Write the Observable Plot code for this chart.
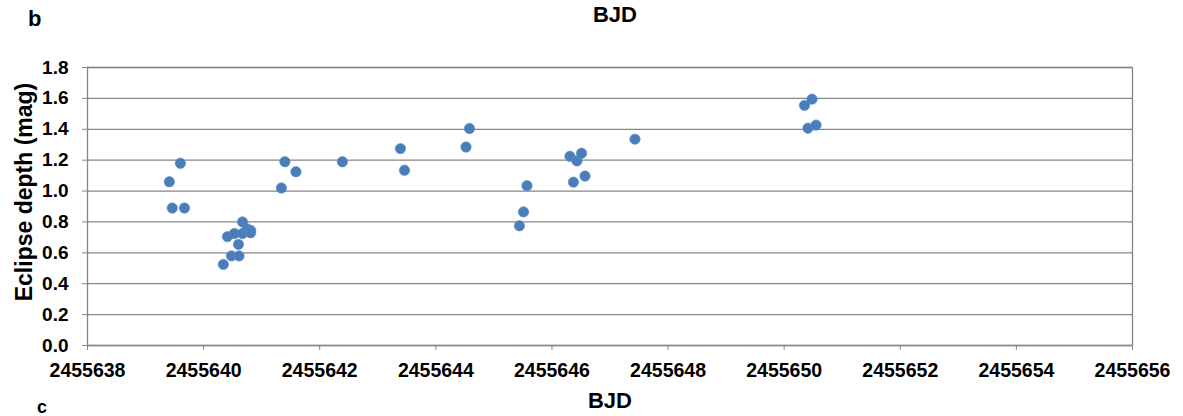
<!DOCTYPE html>
<html>
<head>
<meta charset="utf-8">
<script src="https://cdn.jsdelivr.net/npm/d3@7"></script>
<script src="https://cdn.jsdelivr.net/npm/@observablehq/plot@0.6"></script>
<style>
  html, body { margin: 0; padding: 0; background: #fff; }
  #chart svg { display: block; }
</style>
</head>
<body>
<div id="chart"></div>
<script>
// Data
const bjd = [
  2455639.41, 2455639.46, 2455639.60, 2455639.67,
  2455640.34, 2455640.41, 2455640.48, 2455640.53, 2455640.60, 2455640.61,
  2455640.67, 2455640.67, 2455640.75, 2455640.81, 2455640.81,
  2455641.34, 2455641.40, 2455641.59, 2455642.39,
  2455643.39, 2455643.46, 2455644.52, 2455644.58,
  2455645.44, 2455645.51, 2455645.57,
  2455646.31, 2455646.37, 2455646.43, 2455646.51, 2455646.57,
  2455647.43,
  2455650.35, 2455650.41, 2455650.48, 2455650.55
];
const depth = [
  1.06, 0.89, 1.18, 0.89,
  0.525, 0.705, 0.58, 0.725, 0.655, 0.58,
  0.80, 0.725, 0.755, 0.745, 0.73,
  1.02, 1.19, 1.125, 1.19,
  1.275, 1.135, 1.285, 1.405,
  0.775, 0.865, 1.035,
  1.225, 1.058, 1.195, 1.245, 1.097,
  1.336,
  1.555, 1.407, 1.595, 1.427
];
const xTicks = [2455638, 2455640, 2455642, 2455644, 2455646, 2455648, 2455650, 2455652, 2455654, 2455656];
const yTicks = [0.0, 0.2, 0.4, 0.6, 0.8, 1.0, 1.2, 1.4, 1.6, 1.8];
const titleText = "BJD";
const xLabel = "BJD";
const yLabel = "Eclipse depth (mag)";
const panelLabel = "b";
const nextPanelLabel = "c";

const data = bjd.map((x, i) => ({x, y: depth[i]}));
const gray = "#868686";

const chart = Plot.plot({
  width: 1183,
  height: 416,
  marginLeft: 87,
  marginRight: 51,
  marginTop: 67,
  marginBottom: 71,
  style: {fontFamily: "'Liberation Sans', Arial, sans-serif", background: "#fff", color: "#000"},
  x: {domain: [2455638, 2455656], ticks: xTicks, tickFormat: d => String(d), label: null},
  y: {domain: [0, 1.8], ticks: yTicks, tickFormat: d => d.toFixed(1), label: null},
  marks: [
    Plot.ruleY(yTicks, {stroke: gray, strokeWidth: 1.3}),
    Plot.frame({stroke: gray, strokeWidth: 1.3}),
    Plot.axisY({ticks: yTicks, tickFormat: d => d.toFixed(1), tickSize: 5, tickPadding: 14,
      stroke: gray, fill: "#000", fontSize: 19, fontWeight: "bold", label: null}),
    Plot.axisX({ticks: xTicks, tickFormat: d => String(d), tickSize: 5, tickPadding: 13,
      stroke: gray, fill: "#000", fontSize: 19.5, fontWeight: "bold", label: null}),
    Plot.dot(data, {x: "x", y: "y", r: 5.2, fill: "#4a7ebb", stroke: "#5b8bc6", strokeWidth: 0.6})
  ]
});

const svg = d3.select(chart);
const addText = (t, x, y, size, anchor, rotate) => {
  const el = svg.append("text")
    .attr("x", x).attr("y", y)
    .attr("font-family", "'Liberation Sans', Arial, sans-serif")
    .attr("font-weight", "bold")
    .attr("font-size", size)
    .attr("fill", "#000")
    .attr("text-anchor", anchor)
    .text(t);
  if (rotate) el.attr("transform", `rotate(-90 ${x} ${y})`);
};
addText(panelLabel, 28, 26, 22, "start");
addText(titleText, 615, 22, 22, "middle");
addText(xLabel, 610, 408, 22, "middle");
addText(nextPanelLabel, 37, 413, 18, "start");
addText(yLabel, 32, 192, 23, "middle", true);

document.getElementById("chart").appendChild(chart);
</script>
</body>
</html>
